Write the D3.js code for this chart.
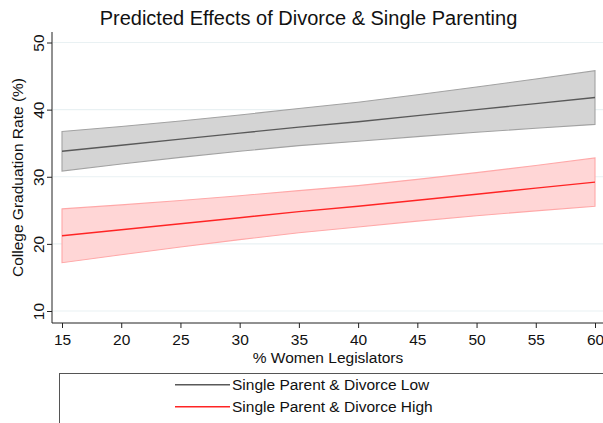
<!DOCTYPE html>
<html>
<head>
<meta charset="utf-8">
<script src="https://cdn.jsdelivr.net/npm/d3@7"></script>
<style>
  html, body { margin: 0; padding: 0; background: #fff; }
  svg { display: block; font-family: "Liberation Sans", Arial, sans-serif; }
</style>
</head>
<body>
<svg id="chart" width="603" height="423"></svg>
<script>
// Predicted graduation rate by share of women legislators, with 95% CIs
const womenPct = [15, 20, 25, 30, 35, 40, 45, 50, 55, 60];

const lowMean  = [33.8, 34.7, 35.6, 36.5, 37.4, 38.2, 39.1, 40.0, 40.9, 41.8];
const lowUpper = [36.75, 37.49, 38.31, 39.2, 40.17, 41.11, 42.22, 43.37, 44.57, 45.8];
const lowLower = [30.85, 31.91, 32.89, 33.8, 34.63, 35.29, 35.98, 36.63, 37.23, 37.8];

const highMean  = [21.2, 22.1, 23.0, 23.9, 24.8, 25.6, 26.5, 27.4, 28.3, 29.2];
const highUpper = [25.21, 25.81, 26.46, 27.17, 27.94, 28.68, 29.61, 30.61, 31.68, 32.81];
const highLower = [17.19, 18.39, 19.54, 20.63, 21.66, 22.52, 23.39, 24.19, 24.92, 25.59];

const xTicks = [15, 20, 25, 30, 35, 40, 45, 50, 55, 60];
const yTicks = [10, 20, 30, 40, 50];

const seriesNames = ["Single Parent & Divorce Low", "Single Parent & Divorce High"];

const FONT = "'Liberation Sans', Arial, sans-serif";
const FS = 15.5;

const svg = d3.select("#chart");

const x = d3.scaleLinear().domain([15, 60]).range([62, 595]);
const y = d3.scaleLinear().domain([10, 50]).range([311, 42.5]);

const axisLeftX = 52, axisBottomY = 323, plotTop = 32, plotRight = 603;

// gridlines
svg.append("g").selectAll("line").data(yTicks).join("line")
  .attr("x1", axisLeftX + 1).attr("x2", plotRight)
  .attr("y1", d => y(d)).attr("y2", d => y(d))
  .attr("stroke", "#e9f1f3").attr("stroke-width", 1.2);

const series = [
  { mean: lowMean, upper: lowUpper, lower: lowLower,
    fill: "#d4d4d4", edge: "#a2a2a2", line: "#595959" },
  { mean: highMean, upper: highUpper, lower: highLower,
    fill: "#ffd6d6", edge: "#ffa8a8", line: "#ff2424" }
];

const area = d3.area()
  .x((d, i) => x(womenPct[i]))
  .y0(d => y(d[0])).y1(d => y(d[1]));
const line = d3.line().x((d, i) => x(womenPct[i])).y(d => y(d));

series.forEach(s => {
  const band = womenPct.map((_, i) => [s.lower[i], s.upper[i]]);
  svg.append("path").datum(band)
    .attr("d", area).attr("fill", s.fill).attr("stroke", "none");
  // band outline, closed at both ends
  const outline = womenPct.map((v, i) => [x(v), y(s.upper[i])])
    .concat(womenPct.slice().reverse().map((v, j) => {
      const i = womenPct.length - 1 - j;
      return [x(v), y(s.lower[i])];
    }));
  svg.append("path")
    .attr("d", d3.line()(outline) + "Z")
    .attr("fill", "none").attr("stroke", s.edge).attr("stroke-width", 1.1);
  svg.append("path").datum(s.mean)
    .attr("d", line).attr("fill", "none")
    .attr("stroke", s.line).attr("stroke-width", 1.4);
});

// axes
const gx = svg.append("g").attr("transform", `translate(0,${axisBottomY})`);
gx.append("line").attr("x1", axisLeftX).attr("x2", plotRight)
  .attr("stroke", "#222").attr("stroke-width", 1);
gx.call(d3.axisBottom(x).tickValues(xTicks).tickSize(5).tickSizeOuter(0).tickPadding(6))
  .call(g => g.select(".domain").remove())
  .call(g => g.selectAll(".tick line").attr("stroke", "#222"))
  .call(g => g.selectAll(".tick text").attr("font-size", FS).attr("fill", "#111")
        .attr("font-family", FONT));

const gy = svg.append("g").attr("transform", `translate(${axisLeftX},0)`);
gy.append("line").attr("y1", plotTop).attr("y2", axisBottomY)
  .attr("stroke", "#222").attr("stroke-width", 1);
gy.call(d3.axisLeft(y).tickValues(yTicks).tickSize(5).tickSizeOuter(0))
  .call(g => g.select(".domain").remove())
  .call(g => g.selectAll(".tick line").attr("stroke", "#222"))
  .call(g => g.selectAll(".tick text").remove());
gy.selectAll(".tick").append("text")
  .attr("transform", "translate(-8,0) rotate(-90)")
  .attr("text-anchor", "middle").attr("font-size", FS).attr("fill", "#111")
  .attr("font-family", FONT)
  .text(d => d);

// titles
svg.append("text").attr("x", 308.5).attr("y", 25)
  .attr("text-anchor", "middle").attr("font-size", 20).attr("fill", "#111")
  .text("Predicted Effects of Divorce & Single Parenting");
svg.append("text").attr("x", 328).attr("y", 363)
  .attr("text-anchor", "middle").attr("font-size", FS).attr("fill", "#111")
  .text("% Women Legislators");
svg.append("text")
  .attr("transform", `translate(23,${(plotTop + axisBottomY) / 2}) rotate(-90)`)
  .attr("text-anchor", "middle").attr("font-size", FS).attr("fill", "#111")
  .text("College Graduation Rate (%)");

// legend
svg.append("rect").attr("x", 59.5).attr("y", 373.5).attr("width", 560).attr("height", 70)
  .attr("fill", "#fff").attr("stroke", "#555").attr("stroke-width", 1);
const legend = svg.append("g").selectAll("g").data(seriesNames).join("g")
  .attr("transform", (d, i) => `translate(175,${384.7 + i * 22})`);
legend.append("line").attr("x1", 0).attr("x2", 55)
  .attr("stroke", (d, i) => series[i].line).attr("stroke-width", 1.4);
legend.append("text").attr("x", 57).attr("y", 5.5).attr("font-size", FS).attr("fill", "#111")
  .text(d => d);
</script>
</body>
</html>
